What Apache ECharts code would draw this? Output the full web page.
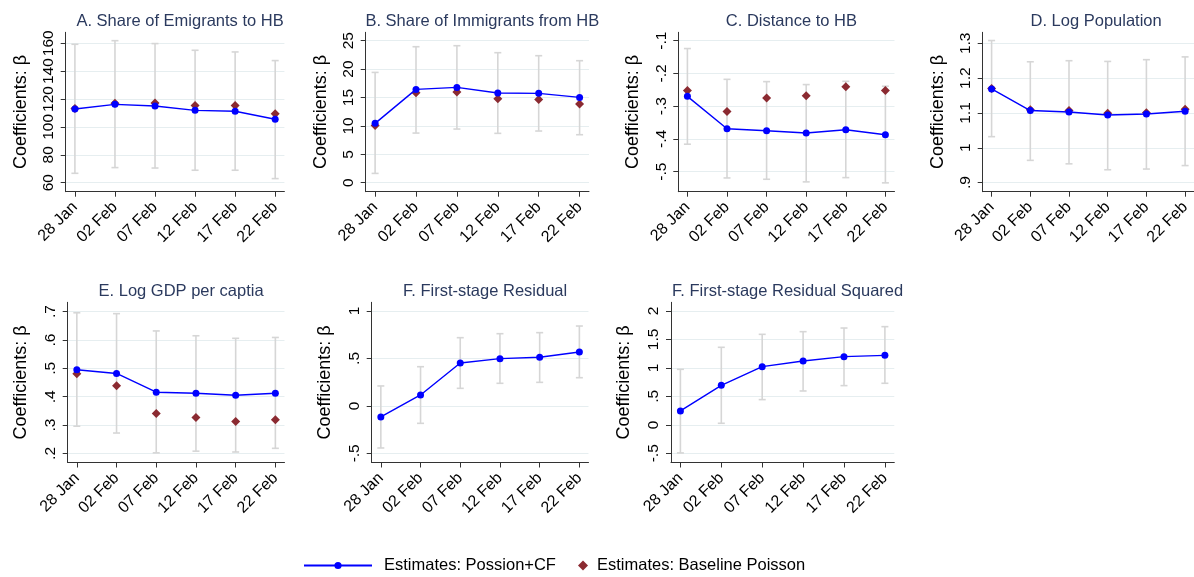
<!DOCTYPE html>
<html>
<head>
<meta charset="utf-8">
<script src="https://cdn.jsdelivr.net/npm/echarts@6/dist/echarts.min.js"></script>
<style>
  html, body { margin: 0; padding: 0; background: #fff; }
  #chart { width: 1194px; height: 577px; }
</style>
</head>
<body>
<div id="chart"></div>
<script>
// Event dates on the horizontal axis
const dates = ['28 Jan', '02 Feb', '07 Feb', '12 Feb', '17 Feb', '22 Feb'];

// A. Share of emigrants to HB
const emigCF    = [112.9, 116.2, 115.0, 111.9, 111.2, 105.5];
const emigBase  = [113.3, 116.9, 117.2, 115.3, 115.3, 109.5];
const emigLo    = [66.7, 70.8, 70.5, 68.9, 68.9, 62.9];
const emigHi    = [159.3, 161.9, 159.8, 155.0, 153.8, 147.6];
const emigTicks = [60, 80, 100, 120, 140, 160];

// B. Share of immigrants from HB
const immCF    = [10.45, 16.43, 16.78, 15.79, 15.73, 15.02];
const immBase  = [10.09, 15.85, 15.96, 14.79, 14.67, 13.85];
const immLo    = [1.64, 8.74, 9.45, 8.69, 9.10, 8.45];
const immHi    = [19.42, 23.94, 24.12, 22.89, 22.36, 21.48];
const immTicks = [0, 5, 10, 15, 20, 25];

// C. Distance to HB
const distCF    = [-0.270, -0.369, -0.375, -0.382, -0.372, -0.387];
const distBase  = [-0.252, -0.316, -0.275, -0.268, -0.241, -0.252];
const distLo    = [-0.416, -0.519, -0.523, -0.531, -0.518, -0.534];
const distHi    = [-0.124, -0.218, -0.225, -0.234, -0.224, -0.239];
const distTicks = [-0.5, -0.4, -0.3, -0.2, -0.1];

// D. Log population
const popCF    = [1.169, 1.107, 1.103, 1.094, 1.097, 1.105];
const popBase  = [1.170, 1.109, 1.107, 1.099, 1.101, 1.111];
const popLo    = [1.032, 0.964, 0.954, 0.937, 0.939, 0.949];
const popHi    = [1.308, 1.247, 1.250, 1.248, 1.253, 1.261];
const popTicks = [0.9, 1, 1.1, 1.2, 1.3];

// E. Log GDP per capita
const gdpCF    = [0.495, 0.482, 0.416, 0.412, 0.405, 0.412];
const gdpBase  = [0.481, 0.439, 0.341, 0.327, 0.313, 0.319];
const gdpLo    = [0.296, 0.272, 0.202, 0.208, 0.205, 0.218];
const gdpHi    = [0.696, 0.693, 0.632, 0.615, 0.606, 0.609];
const gdpTicks = [0.2, 0.3, 0.4, 0.5, 0.6, 0.7];

// F. First-stage residual
const resCF    = [-0.117, 0.115, 0.452, 0.498, 0.512, 0.568];
const resLo    = [-0.444, -0.184, 0.185, 0.238, 0.248, 0.297];
const resHi    = [0.210, 0.413, 0.719, 0.761, 0.772, 0.842];
const resTicks = [-0.5, 0, 0.5, 1];

// F. First-stage residual squared
const res2CF    = [0.244, 0.694, 1.022, 1.122, 1.198, 1.221];
const res2Lo    = [-0.494, 0.027, 0.443, 0.595, 0.689, 0.730];
const res2Hi    = [0.975, 1.362, 1.590, 1.637, 1.701, 1.725];
const res2Ticks = [-0.5, 0, 0.5, 1, 1.5, 2];

const NAME_CF = 'Estimates: Possion+CF';
const NAME_BASE = 'Estimates: Baseline Poisson';
const FONT = '"Liberation Sans", Arial, Helvetica, sans-serif';

const panels = [
  { title: 'A. Share of Emigrants to HB', cf: emigCF, base: emigBase, lo: emigLo, hi: emigHi, ticks: emigTicks,
    box: { left: 65.7, top: 32.3, width: 218.7, height: 159.4 }, yr: [53.5, 167.9], gap: 36 },
  { title: 'B. Share of Immigrants from HB', cf: immCF, base: immBase, lo: immLo, hi: immHi, ticks: immTicks,
    box: { left: 365.7, top: 32.3, width: 223.3, height: 159.4 }, yr: [-1.58, 26.48], gap: 36 },
  { title: 'C. Distance to HB', cf: distCF, base: distBase, lo: distLo, hi: distHi, ticks: distTicks,
    box: { left: 678.3, top: 32.3, width: 216.2, height: 159.4 }, yr: [-0.561, -0.0744], gap: 36 },
  { title: 'D. Log Population', cf: popCF, base: popBase, lo: popLo, hi: popHi, ticks: popTicks,
    box: { left: 982.7, top: 32.3, width: 216.8, height: 159.4 }, yr: [0.874, 1.3316], gap: 36 },
  { title: 'E. Log GDP per captia', cf: gdpCF, base: gdpBase, lo: gdpLo, hi: gdpHi, ticks: gdpTicks,
    box: { left: 67.7, top: 302.3, width: 216.8, height: 160.2 }, yr: [0.168, 0.733], gap: 38 },
  { title: 'F. First-stage Residual', cf: resCF, base: null, lo: resLo, hi: resHi, ticks: resTicks,
    box: { left: 371.7, top: 302.3, width: 216.8, height: 160.2 }, yr: [-0.597, 1.092], gap: 38 },
  { title: 'F. First-stage Residual Squared', cf: res2CF, base: null, lo: res2Lo, hi: res2Hi, ticks: res2Ticks,
    box: { left: 671, top: 302.3, width: 223.3, height: 160.2 }, yr: [-0.662, 2.153], gap: 38 }
];

// Stata-style number labels: ".5", "-.3", "1.5"
function fmt(v) {
  let s = String(+(+v).toFixed(4));
  return s.replace(/^0\./, '.').replace(/^-0\./, '-.');
}

const xIdx = dates.map((_, i) => i);
const grid = [], xAxis = [], yAxis = [], series = [], title = [];

panels.forEach((p, k) => {
  grid.push(Object.assign({ containLabel: false }, p.box));
  title.push({
    text: p.title,
    left: p.box.left + p.box.width / 2,
    top: p.box.top - 24.5,
    textAlign: 'center',
    textStyle: { fontFamily: FONT, fontSize: 16.5, fontWeight: 'normal', color: '#2b3a5e' }
  });
  xAxis.push({
    type: 'value', gridIndex: k, min: -0.23, max: 5.23,
    axisLine: { show: true, onZero: false, lineStyle: { color: '#333', width: 1 } },
    axisTick: { show: true, length: 5, customValues: xIdx, lineStyle: { color: '#333' } },
    axisLabel: {
      customValues: xIdx, rotate: 45, margin: 13,
      fontFamily: FONT, fontSize: 16, color: '#000',
      formatter: v => dates[Math.round(v)]
    },
    splitLine: { show: false }
  });
  yAxis.push({
    type: 'value', gridIndex: k, min: p.yr[0], max: p.yr[1],
    name: 'Coefficients: β', nameLocation: 'middle', nameRotate: 90, nameGap: p.gap,
    nameTextStyle: { fontFamily: FONT, fontSize: 18, color: '#000' },
    axisLine: { show: true, onZero: false, lineStyle: { color: '#333', width: 1 } },
    axisTick: { show: true, length: 5, customValues: p.ticks, lineStyle: { color: '#333' } },
    axisLabel: {
      customValues: p.ticks, rotate: 90, margin: 9,
      fontFamily: FONT, fontSize: 15.5, color: '#000', formatter: fmt
    },
    splitLine: { show: true, lineStyle: { color: '#e6eef0', width: 1 } }
  });

  // 95% confidence intervals as capped spikes
  series.push({
    type: 'custom', xAxisIndex: k, yAxisIndex: k, silent: true, z: 1,
    data: p.lo.map((lo, i) => [i, lo, p.hi[i]]),
    encode: { x: 0, y: [1, 2] },
    renderItem: (params, api) => {
      const a = api.coord([api.value(0), api.value(1)]);
      const b = api.coord([api.value(0), api.value(2)]);
      const w = 3.5;
      const st = { stroke: '#d6d6d6', lineWidth: 1.6 };
      return {
        type: 'group',
        children: [
          { type: 'line', shape: { x1: a[0], y1: a[1], x2: b[0], y2: b[1] }, style: st },
          { type: 'line', shape: { x1: a[0] - w, y1: a[1], x2: a[0] + w, y2: a[1] }, style: st },
          { type: 'line', shape: { x1: b[0] - w, y1: b[1], x2: b[0] + w, y2: b[1] }, style: st }
        ]
      };
    }
  });

  if (p.base) {
    series.push({
      name: NAME_BASE, type: 'scatter', xAxisIndex: k, yAxisIndex: k, z: 2,
      symbol: 'diamond', symbolSize: 9,
      itemStyle: { color: '#8b2a31', opacity: 1 },
      data: p.base.map((v, i) => [i, v])
    });
  }

  series.push({
    name: NAME_CF, type: 'line', xAxisIndex: k, yAxisIndex: k, z: 3,
    symbol: 'circle', symbolSize: 7, showSymbol: true,
    lineStyle: { color: '#0000ff', width: 1.4 },
    itemStyle: { color: '#0000ff' },
    data: p.cf.map((v, i) => [i, v])
  });
});

const chart = echarts.init(document.getElementById('chart'), null, { renderer: 'canvas' });
chart.setOption({
  animation: false,
  backgroundColor: '#fff',
  title,
  grid, xAxis, yAxis, series,
  legend: [
    {
      data: [NAME_CF], left: 303, top: 557, padding: 0,
      itemWidth: 68, itemHeight: 9,
      textStyle: { fontFamily: FONT, fontSize: 16.5, color: '#000', padding: [0, 0, 0, 7] }
    },
    {
      data: [{ name: NAME_BASE, icon: 'diamond', itemStyle: { opacity: 1 } }], left: 578, top: 557, padding: 0,
      itemWidth: 10, itemHeight: 10,
      textStyle: { fontFamily: FONT, fontSize: 16.5, color: '#000', padding: [0, 0, 0, 4] }
    }
  ]
});
</script>
</body>
</html>
